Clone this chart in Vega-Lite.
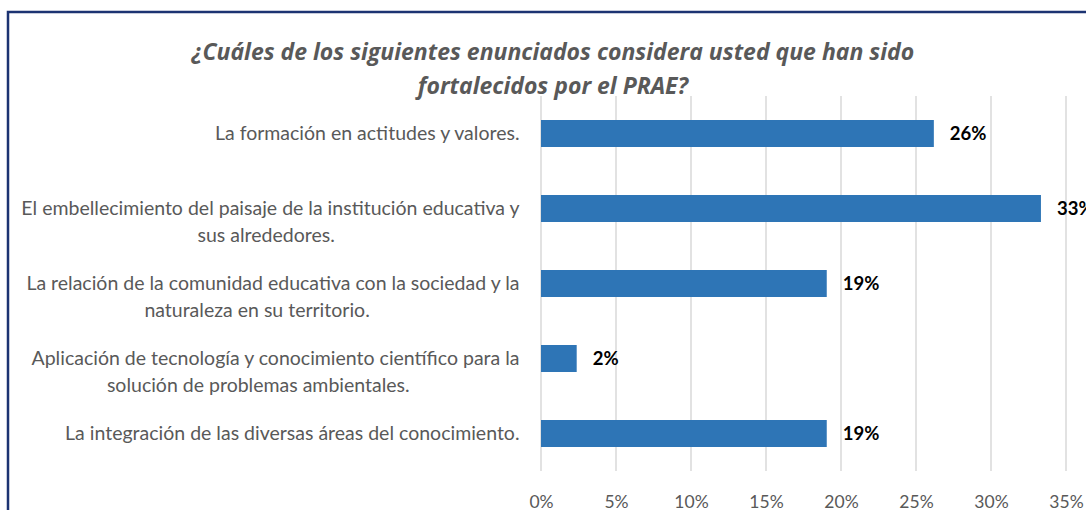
{
  "$schema": "https://vega.github.io/schema/vega-lite/v6.json",
  "autosize": {"type": "none"},
  "padding": {"left": 8, "top": 12, "right": 0, "bottom": 0},
  "width": 1090,
  "height": 520,
  "background": "white",
  "config": {
    "view": {"stroke": "#1c3372", "strokeWidth": 2.5},
    "font": "Lato"
  },
  "title": {
    "text": ["¿Cuáles de los siguientes enunciados considera usted que han sido", "fortalecidos por el PRAE?"],
    "fontSize": 23,
    "fontStyle": "italic",
    "fontWeight": "bold",
    "color": "#595959",
    "font": "Open Sans",
    "anchor": "middle",
    "lineHeight": 34,
    "offset": -87
  },
  "layer": [
    {
      "data": {"values": [{"t": 0}, {"t": 0.05}, {"t": 0.1}, {"t": 0.15}, {"t": 0.2}, {"t": 0.25}, {"t": 0.3}, {"t": 0.35}]},
      "mark": {"type": "rule", "color": "#d9d9d9", "strokeWidth": 1.5},
      "encoding": {
        "x": {"field": "t", "type": "quantitative"},
        "y": {"datum": 0, "type": "quantitative", "scale": {"domain": [0, 1], "range": [459, 84]}, "axis": null},
        "y2": {"datum": 1}
      }
    },
    {
      "data": {"name": "main"},
      "layer": [
        {
          "mark": {"type": "bar", "color": "#2e75b6"},
          "encoding": {
            "y": {"field": "label", "type": "nominal", "sort": null,
              "scale": {"range": [84, 459], "paddingInner": 0.64, "paddingOuter": 0.32},
              "axis": {
                "orient": "left", "offset": -533, "labelPadding": 22, "domain": false, "ticks": false, "grid": false, "title": null,
                "labelFont": "Lato", "labelFontSize": 19.5, "labelColor": "#595959", "labelLimit": 0, "labelLineHeight": 27,
                "labelExpr": "length(split(datum.label,'|')) > 1 ? [split(datum.label,'|')[0], pad(split(datum.label,'|')[1], length(split(datum.label,'|')[1]) + (length(split(datum.label,'|')[1]) == 16 ? 37 : (length(split(datum.label,'|')[1]) == 28 ? 30 : 22)), '\u00a0', 'right') + '\u200b'] : datum.label"
              }
            },
            "x": {"field": "value", "type": "quantitative",
              "scale": {"domain": [0, 0.35], "range": [533, 1058], "nice": false, "zero": true},
              "axis": {
                "orient": "bottom", "offset": -61, "labelPadding": 22, "domain": false, "ticks": false, "grid": false, "title": null,
                "labelFlush": false, "labelOverlap": false,
                "values": [0, 0.05, 0.1, 0.15, 0.2, 0.25, 0.3, 0.35], "format": ".0%",
                "labelFont": "Lato", "labelFontSize": 17.5, "labelColor": "#595959"
              }
            }
          }
        },
        {
          "mark": {"type": "text", "align": "left", "baseline": "middle", "dx": 16, "fontWeight": "bold", "fontSize": 18.5, "color": "#000000", "font": "Lato"},
          "encoding": {
            "y": {"field": "label", "type": "nominal", "sort": null},
            "x": {"field": "value", "type": "quantitative"},
            "text": {"field": "value", "type": "quantitative", "format": ".0%"}
          }
        }
      ]
    }
  ],
  "datasets": {
    "main": [
      {"label": "La formación en actitudes y valores.", "value": 0.2619},
      {"label": "El embellecimiento del paisaje de la institución educativa y|sus alrededores.", "value": 0.3333},
      {"label": "La relación de la comunidad educativa con la sociedad y la|naturaleza en su territorio.", "value": 0.1905},
      {"label": "Aplicación de tecnología y conocimiento científico para la|solución de problemas ambientales.", "value": 0.0238},
      {"label": "La integración de las diversas áreas del conocimiento.", "value": 0.1905}
    ]
  },
  "resolve": {"scale": {"y": "independent"}}
}
